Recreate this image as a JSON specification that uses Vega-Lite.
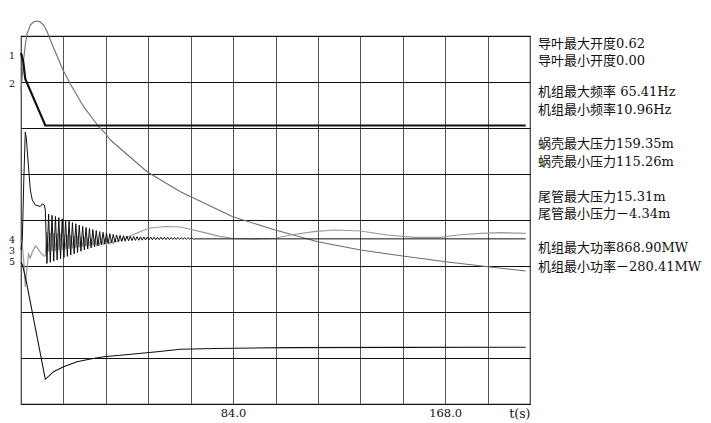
{
  "$schema": "https://vega.github.io/schema/vega-lite/v6.json",
  "autosize": "none",
  "width": 509,
  "height": 368,
  "padding": {"left": 21, "top": 36, "right": 181, "bottom": 19},
  "background": "white",
  "config": {"view": {"stroke": "#222", "strokeWidth": 1.2}},
  "datasets": {
    "vane": [
      {"t": 0, "v": 7.63}, {"t": 0.91, "v": 7.435}, {"t": 1.7, "v": 7.065}, {"t": 9.63, "v": 6.054}, {"t": 199.89, "v": 6.054}
    ],
    "freq": [
      {"t": 0, "v": 6.804}, {"t": 0.52, "v": 7.152}, {"t": 1.03, "v": 7.478}, {"t": 1.7, "v": 7.804}, {"t": 2.38, "v": 8.043},
      {"t": 3.69, "v": 8.239}, {"t": 4.88, "v": 8.304}, {"t": 6.34, "v": 8.326}, {"t": 7.65, "v": 8.304}, {"t": 8.96, "v": 8.239},
      {"t": 10.43, "v": 8.087}, {"t": 11.61, "v": 7.913}, {"t": 13.6, "v": 7.652}, {"t": 16.65, "v": 7.261}, {"t": 19.55, "v": 6.957},
      {"t": 24.81, "v": 6.463}, {"t": 28.78, "v": 6.174}, {"t": 30.76, "v": 6.028}, {"t": 33.41, "v": 5.885}, {"t": 35.4, "v": 5.739},
      {"t": 49.94, "v": 5.05}, {"t": 63.14, "v": 4.615}, {"t": 83.88, "v": 4.072}, {"t": 100.68, "v": 3.783}, {"t": 117.57, "v": 3.528},
      {"t": 134.49, "v": 3.348}, {"t": 151.14, "v": 3.217}, {"t": 168.19, "v": 3.093}, {"t": 184.95, "v": 2.985}, {"t": 199.89, "v": 2.891}
    ],
    "spiral": [
      {"t": 0, "v": 3.348}, {"t": 0.52, "v": 3.565}, {"t": 1.11, "v": 4.87}, {"t": 1.7, "v": 5.913}, {"t": 2.1, "v": 5.783},
      {"t": 3.01, "v": 5.13}, {"t": 3.69, "v": 4.652}, {"t": 4.48, "v": 4.435}, {"t": 5.67, "v": 4.326}, {"t": 7.65, "v": 4.293},
      {"t": 8.44, "v": 4.348}, {"t": 9.24, "v": 4.326}, {"t": 9.63, "v": 4.217},
      {"t": 10.27, "v": 3.055}, {"t": 10.94, "v": 4.129}, {"t": 11.61, "v": 3.08}, {"t": 12.29, "v": 4.103}, {"t": 12.96, "v": 3.106},
      {"t": 13.64, "v": 4.077}, {"t": 14.31, "v": 3.132}, {"t": 14.98, "v": 4.051}, {"t": 15.66, "v": 3.157}, {"t": 16.33, "v": 4.026},
      {"t": 17.0, "v": 3.183}, {"t": 17.68, "v": 4.0}, {"t": 18.35, "v": 3.209}, {"t": 19.03, "v": 3.973}, {"t": 19.7, "v": 3.237},
      {"t": 20.37, "v": 3.945}, {"t": 21.05, "v": 3.265}, {"t": 21.72, "v": 3.917}, {"t": 22.39, "v": 3.293}, {"t": 23.07, "v": 3.889},
      {"t": 23.74, "v": 3.321}, {"t": 24.42, "v": 3.861}, {"t": 25.09, "v": 3.348}, {"t": 25.76, "v": 3.837}, {"t": 26.44, "v": 3.37},
      {"t": 27.11, "v": 3.815}, {"t": 27.78, "v": 3.392}, {"t": 28.46, "v": 3.793}, {"t": 29.13, "v": 3.414}, {"t": 29.81, "v": 3.771},
      {"t": 30.48, "v": 3.436}, {"t": 31.15, "v": 3.748}, {"t": 31.83, "v": 3.457}, {"t": 32.5, "v": 3.732}, {"t": 33.18, "v": 3.472},
      {"t": 33.85, "v": 3.717}, {"t": 34.52, "v": 3.487}, {"t": 35.2, "v": 3.702}, {"t": 35.87, "v": 3.502}, {"t": 36.54, "v": 3.686},
      {"t": 37.22, "v": 3.517}, {"t": 37.89, "v": 3.671}, {"t": 38.56, "v": 3.528}, {"t": 39.24, "v": 3.665}, {"t": 39.91, "v": 3.534},
      {"t": 40.59, "v": 3.659}, {"t": 41.26, "v": 3.54}, {"t": 41.93, "v": 3.653}, {"t": 42.61, "v": 3.546}, {"t": 43.28, "v": 3.647},
      {"t": 43.96, "v": 3.552}, {"t": 44.63, "v": 3.641}, {"t": 45.3, "v": 3.556}, {"t": 45.98, "v": 3.638}, {"t": 46.65, "v": 3.559},
      {"t": 47.32, "v": 3.635}, {"t": 48.0, "v": 3.562}, {"t": 48.67, "v": 3.632}, {"t": 49.34, "v": 3.565}, {"t": 50.02, "v": 3.629},
      {"t": 50.69, "v": 3.568}, {"t": 51.37, "v": 3.627}, {"t": 52.04, "v": 3.57}, {"t": 52.72, "v": 3.626}, {"t": 53.39, "v": 3.571},
      {"t": 54.06, "v": 3.625}, {"t": 54.74, "v": 3.572}, {"t": 55.41, "v": 3.624}, {"t": 56.08, "v": 3.573}, {"t": 56.76, "v": 3.623},
      {"t": 57.43, "v": 3.574}, {"t": 58.11, "v": 3.622}, {"t": 58.78, "v": 3.575}, {"t": 59.45, "v": 3.621}, {"t": 60.13, "v": 3.576},
      {"t": 60.8, "v": 3.62}, {"t": 61.47, "v": 3.577}, {"t": 62.15, "v": 3.619}, {"t": 62.82, "v": 3.578}, {"t": 63.5, "v": 3.618},
      {"t": 64.17, "v": 3.579}, {"t": 64.84, "v": 3.617}, {"t": 65.52, "v": 3.58}, {"t": 66.19, "v": 3.616}, {"t": 66.86, "v": 3.581},
      {"t": 67.54, "v": 3.615}, {"t": 68.21, "v": 3.582}, {"t": 68.9, "v": 3.59}, {"t": 199.89, "v": 3.59}
    ],
    "tail": [
      {"t": 0, "v": 3.565}, {"t": 0.52, "v": 3.457}, {"t": 1.11, "v": 3.087}, {"t": 1.7, "v": 2.543}, {"t": 2.3, "v": 2.913},
      {"t": 3.01, "v": 3.261}, {"t": 3.69, "v": 3.174}, {"t": 4.48, "v": 3.304}, {"t": 5.67, "v": 3.435}, {"t": 6.46, "v": 3.391},
      {"t": 7.65, "v": 3.304}, {"t": 8.96, "v": 3.217}, {"t": 9.63, "v": 3.217},
      {"t": 10.27, "v": 3.739}, {"t": 10.94, "v": 3.31}, {"t": 11.61, "v": 3.729}, {"t": 12.29, "v": 3.32}, {"t": 12.96, "v": 3.719},
      {"t": 13.64, "v": 3.33}, {"t": 14.31, "v": 3.709}, {"t": 14.98, "v": 3.341}, {"t": 15.66, "v": 3.698}, {"t": 16.33, "v": 3.351},
      {"t": 17.0, "v": 3.688}, {"t": 17.68, "v": 3.361}, {"t": 18.35, "v": 3.678}, {"t": 19.03, "v": 3.372}, {"t": 19.7, "v": 3.666},
      {"t": 20.37, "v": 3.383}, {"t": 21.05, "v": 3.655}, {"t": 21.72, "v": 3.395}, {"t": 22.39, "v": 3.644}, {"t": 23.07, "v": 3.406},
      {"t": 23.74, "v": 3.633}, {"t": 24.42, "v": 3.417}, {"t": 25.09, "v": 3.622}, {"t": 25.76, "v": 3.427}, {"t": 26.44, "v": 3.613},
      {"t": 27.11, "v": 3.435}, {"t": 27.78, "v": 3.604}, {"t": 28.46, "v": 3.444}, {"t": 29.13, "v": 3.595}, {"t": 29.81, "v": 3.453},
      {"t": 30.48, "v": 3.587}, {"t": 31.15, "v": 3.462}, {"t": 31.83, "v": 3.579}, {"t": 32.5, "v": 3.469}, {"t": 33.18, "v": 3.572},
      {"t": 33.85, "v": 3.475}, {"t": 34.52, "v": 3.566}, {"t": 35.2, "v": 3.481}, {"t": 35.87, "v": 3.56}, {"t": 36.54, "v": 3.487},
      {"t": 37.22, "v": 3.554}, {"t": 37.89, "v": 3.533}, {"t": 39.36, "v": 3.565}, {"t": 43.32, "v": 3.652}, {"t": 47.29, "v": 3.75},
      {"t": 51.25, "v": 3.826}, {"t": 57.2, "v": 3.859}, {"t": 63.14, "v": 3.848}, {"t": 71.07, "v": 3.746}, {"t": 79.0, "v": 3.637},
      {"t": 84.27, "v": 3.598}, {"t": 90.89, "v": 3.587}, {"t": 100.12, "v": 3.598}, {"t": 106.74, "v": 3.674}, {"t": 115.98, "v": 3.746},
      {"t": 123.91, "v": 3.783}, {"t": 134.49, "v": 3.761}, {"t": 145.07, "v": 3.674}, {"t": 155.62, "v": 3.624}, {"t": 166.2, "v": 3.624},
      {"t": 172.82, "v": 3.674}, {"t": 182.06, "v": 3.711}, {"t": 189.98, "v": 3.724}, {"t": 199.89, "v": 3.711}
    ],
    "power": [
      {"t": 0, "v": 3.087}, {"t": 0.59, "v": 3.022}, {"t": 1.98, "v": 2.696}, {"t": 9.63, "v": 0.537}, {"t": 12.92, "v": 0.702},
      {"t": 16.89, "v": 0.811}, {"t": 22.2, "v": 0.92}, {"t": 27.47, "v": 0.978}, {"t": 32.74, "v": 1.028}, {"t": 44.63, "v": 1.087},
      {"t": 53.91, "v": 1.137}, {"t": 63.14, "v": 1.189}, {"t": 77.01, "v": 1.207}, {"t": 105.95, "v": 1.226}, {"t": 150.34, "v": 1.23},
      {"t": 199.89, "v": 1.233}
    ],
    "curveLabels": [
      {"label": "1", "pos": 7.565}, {"label": "2", "pos": 6.957}, {"label": "4", "pos": 3.575}, {"label": "3", "pos": 3.33}, {"label": "5", "pos": 3.085}
    ],
    "notes": [
      {"label": "导叶最大开度0.62", "pos": 7.826},
      {"label": "导叶最小开度0.00", "pos": 7.457},
      {"label": "机组最大频率 65.41Hz", "pos": 6.772},
      {"label": "机组最小频率10.96Hz", "pos": 6.391},
      {"label": "蜗壳最大压力159.35m", "pos": 5.652},
      {"label": "蜗壳最小压力115.26m", "pos": 5.261},
      {"label": "尾管最大压力15.31m", "pos": 4.507},
      {"label": "尾管最小压力－4.34m", "pos": 4.13},
      {"label": "机组最大功率868.90MW", "pos": 3.385},
      {"label": "机组最小功率－280.41MW", "pos": 2.985}
    ]
  },
  "layer": [
    {
      "data": {"name": "freq"},
      "mark": {"type": "line", "color": "#6e6e6e", "strokeWidth": 1.1},
      "encoding": {
        "x": {
          "field": "t", "type": "quantitative",
          "scale": {"domain": [0, 201.6], "nice": false, "zero": false},
          "axis": {
            "values": [0, 16.8, 33.6, 50.4, 67.2, 84, 100.8, 117.6, 134.4, 151.2, 168, 184.8, 201.6],
            "grid": true, "gridColor": "#555", "gridWidth": 1,
            "ticks": false, "domain": false,
            "labelExpr": "datum.value == 84 || datum.value == 168 ? format(datum.value, '.1f') : ''",
            "labelOverlap": false, "labelFlush": false,
            "labelFont": "DejaVu Serif", "labelFontSize": 11.5, "labelColor": "#111", "labelPadding": 3,
            "title": "t(s)", "titleX": 509, "titleY": 3, "titleAlign": "right", "titleBaseline": "top",
            "titleFont": "DejaVu Serif", "titleFontSize": 12.5, "titleFontWeight": "normal", "titleColor": "#111"
          }
        },
        "y": {
          "field": "v", "type": "quantitative",
          "scale": {"domain": [0, 8], "nice": false, "zero": false},
          "axis": {
            "values": [0, 1, 2, 3, 4, 5, 6, 7, 8],
            "grid": true, "gridColor": "#111", "gridWidth": 1.2,
            "labels": false, "ticks": false, "domain": false, "title": null
          }
        }
      }
    },
    {
      "data": {"name": "tail"},
      "mark": {"type": "line", "color": "#999", "strokeWidth": 1.2},
      "encoding": {"x": {"field": "t", "type": "quantitative"}, "y": {"field": "v", "type": "quantitative"}}
    },
    {
      "data": {"name": "spiral"},
      "mark": {"type": "line", "color": "#111", "strokeWidth": 1},
      "encoding": {"x": {"field": "t", "type": "quantitative"}, "y": {"field": "v", "type": "quantitative"}}
    },
    {
      "data": {"name": "power"},
      "mark": {"type": "line", "color": "#111", "strokeWidth": 1.1},
      "encoding": {"x": {"field": "t", "type": "quantitative"}, "y": {"field": "v", "type": "quantitative"}}
    },
    {
      "data": {"name": "vane"},
      "mark": {"type": "line", "color": "#111", "strokeWidth": 2.2},
      "encoding": {"x": {"field": "t", "type": "quantitative"}, "y": {"field": "v", "type": "quantitative"}}
    },
    {
      "data": {"name": "curveLabels"},
      "mark": {"type": "text", "align": "right", "baseline": "middle", "dx": -6, "font": "DejaVu Serif", "fontSize": 9.5, "color": "#111"},
      "encoding": {"x": {"datum": 0}, "y": {"field": "pos", "type": "quantitative"}, "text": {"field": "label"}}
    },
    {
      "data": {"name": "notes"},
      "mark": {"type": "text", "align": "left", "baseline": "middle", "dx": 8, "font": "DejaVu Serif, Noto Sans CJK SC", "fontSize": 13, "color": "#111"},
      "encoding": {"x": {"datum": 201.6}, "y": {"field": "pos", "type": "quantitative"}, "text": {"field": "label"}}
    }
  ]
}
